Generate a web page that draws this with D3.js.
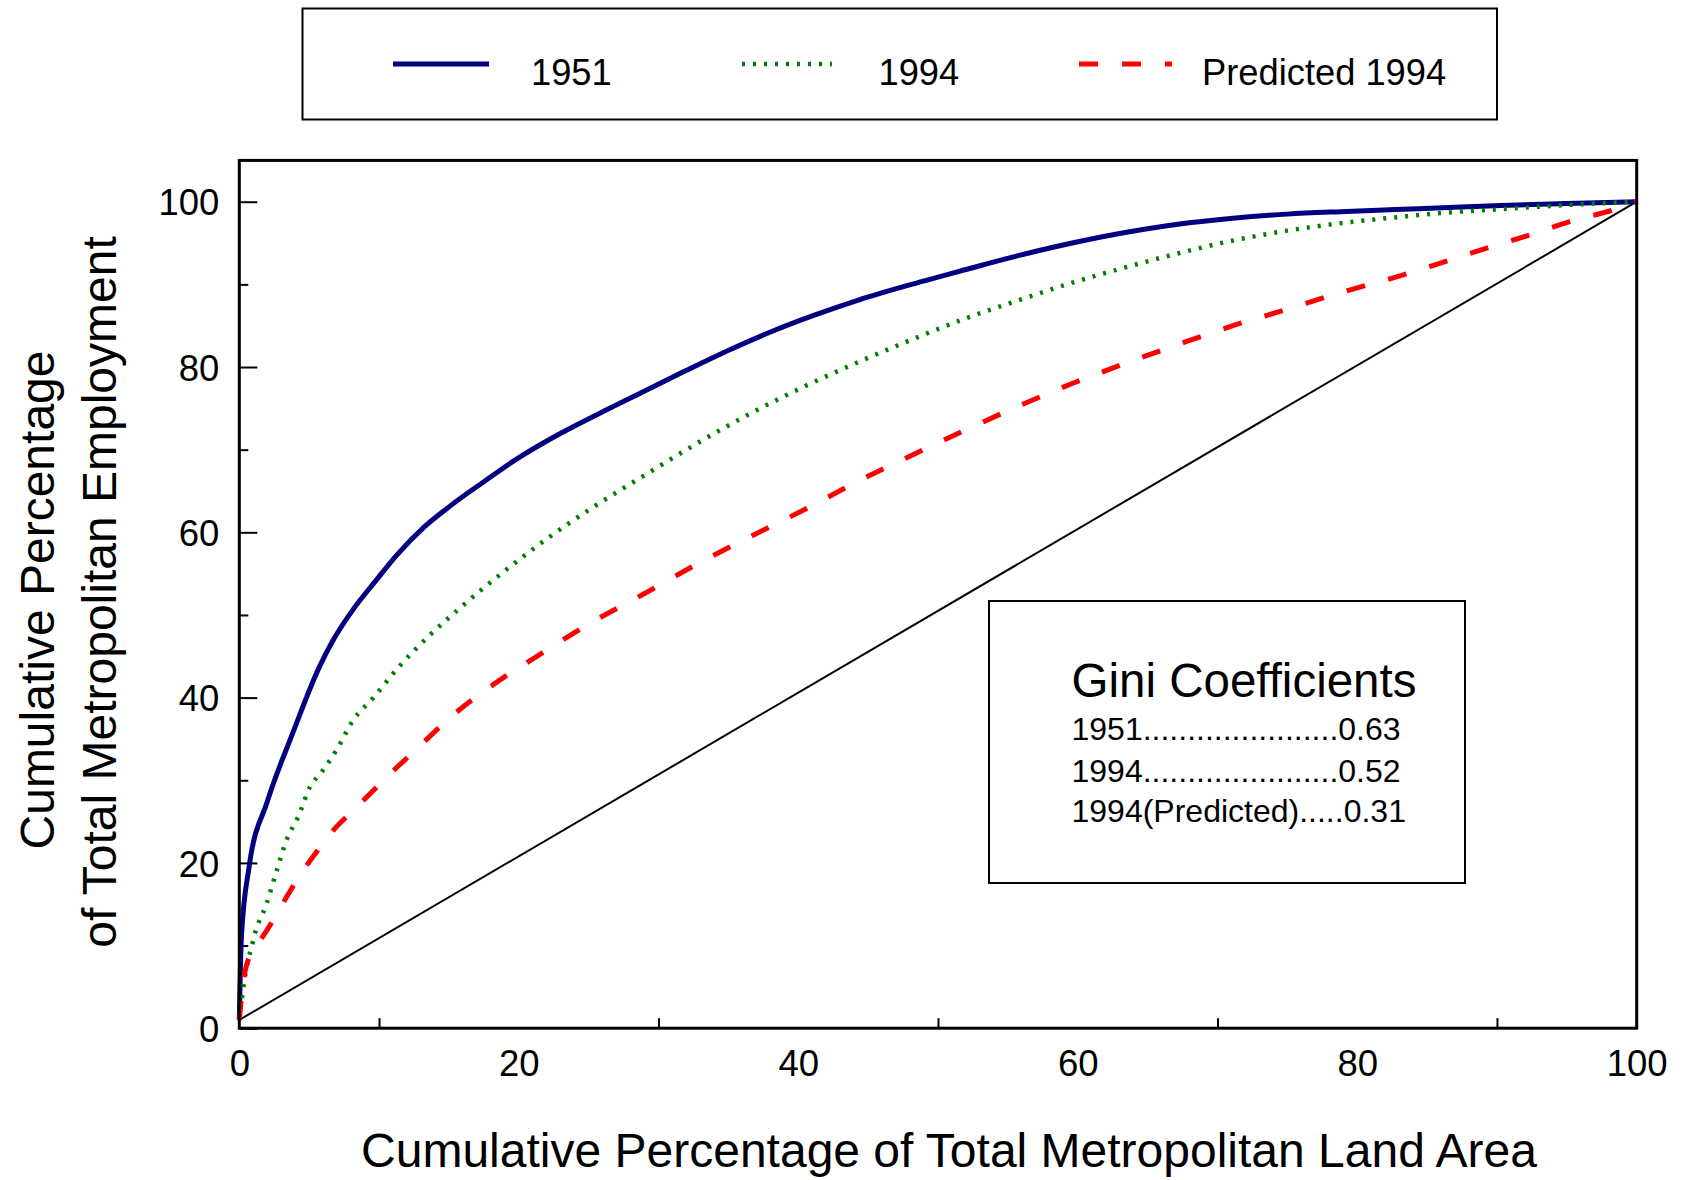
<!DOCTYPE html>
<html>
<head>
<meta charset="utf-8">
<script src="https://cdn.jsdelivr.net/npm/d3@7"></script>
<style>
  html, body { margin: 0; padding: 0; background: #fff; }
  svg { display: block; font-family: "Liberation Sans", Arial, Helvetica, sans-serif; }
</style>
</head>
<body>
<svg id="chart" width="1682" height="1180"></svg>
<script>
// Lorenz curves: cumulative share of metropolitan employment vs cumulative share of land area
const series1951 = [
  [0,1],[0.15,11],[0.7,19.5],[2.0,27.4],[3.8,35.6],[5.7,43.6],[6.7,46.9],[8.2,50.8],
  [9.7,54.0],[11.3,57.3],[13.2,60.6],[15.1,63.2],[17.4,66.0],[19.7,68.7],[22.8,71.8],
  [25.9,74.5],[28.9,77.0],[32.0,79.6],[35.1,82.1],[38.1,84.3],[41.2,86.3],[44.3,88.1],
  [48.1,90.0],[52.0,91.8],[55.8,93.5],[59.6,95.0],[63.5,96.3],[67.3,97.3],[71.1,98.0],
  [75.0,98.5],[78.8,98.8],[82.7,99.05],[86.5,99.3],[90.3,99.55],[95.0,99.8],[100,100]
];
const series1994 = [
  [0,1],[0.17,3.4],[0.53,7.4],[0.89,9.9],[1.13,11.5],[1.96,15.1],[2.68,19.1],[3.39,22.8],
  [4.22,25.6],[5.06,29.2],[5.9,31.0],[6.97,33.7],[8.16,37.3],[9.6,40.0],[11.3,43.5],
  [13.6,47.5],[15.9,51.0],[18.9,55.2],[22.0,59.2],[25.1,62.8],[28.9,66.8],[32.8,70.8],
  [36.6,74.4],[40.5,77.7],[44.3,80.6],[48.1,83.3],[52.0,85.9],[55.8,88.1],[59.6,90.2],
  [63.5,92.1],[67.3,93.8],[71.1,95.3],[75.0,96.5],[78.8,97.4],[82.7,98.1],[86.5,98.7],
  [90.3,99.1],[95.0,99.6],[100,100]
];
const seriesPredicted1994 = [
  [0,1],[0.2,4.5],[0.48,7.4],[1.2,9.8],[1.84,11.5],[2.43,13.1],[3.5,16.2],[4.3,18.4],
  [5.6,21.5],[6.6,23.7],[8.3,26.6],[9.5,28.6],[11.3,31.6],[12.7,33.8],[15.1,37.6],
  [18.2,41.6],[21.3,45.0],[25.1,49.0],[28.9,52.5],[32.8,56.2],[36.6,59.5],[40.5,62.8],
  [44.3,66.2],[48.1,69.3],[52.0,72.4],[55.8,75.3],[59.6,78.0],[63.5,80.5],[67.3,82.8],
  [71.1,85.0],[75.0,87.0],[78.8,89.0],[83.0,91.0],[86.0,92.6],[89.1,94.3],[92.2,95.9],
  [95.2,97.6],[98.3,99.0],[100,100]
];
// line of perfect equality
const equalityLine = [[0,1],[100,100]];

const legendLabels = ["1951", "1994", "Predicted 1994"];
const giniTitle = "Gini Coefficients";
const giniLabels = ["1951......................0.63", "1994......................0.52", "1994(Predicted).....0.31"];

const xMajorTicks = [0, 20, 40, 60, 80, 100];
const xMinorTicks = [10, 30, 50, 70, 90];
const yMajorTicks = [0, 20, 40, 60, 80, 100];
const yMinorTicks = [10, 30, 50, 70, 90];

const xTitle = "Cumulative Percentage of Total Metropolitan Land Area";
const yTitleLines = ["Cumulative Percentage", "of Total Metropolitan Employment"];

const svg = d3.select("#chart");

const plot = { left: 239.3, right: 1636.7, top: 160.4, bottom: 1028.2 };
const x = d3.scaleLinear().domain([0, 100]).range([plot.left, plot.right]);
const y = d3.scaleLinear().domain([0, 105]).range([plot.bottom, plot.top]);

const styles = [
  { color: "#000080", width: 5, dash: null },
  { color: "#008000", width: 4.5, dash: "3,8" },
  { color: "#ff0000", width: 5, dash: "19,24" }
];

// Legend box
const legend = svg.append("g");
legend.append("rect")
  .attr("x", 302.5).attr("y", 8.5).attr("width", 1194.5).attr("height", 111)
  .attr("fill", "none").attr("stroke", "#000").attr("stroke-width", 2);
const legendItems = [
  { x1: 393, x2: 489, tx: 531 },
  { x1: 742, x2: 832, tx: 878.5 },
  { x1: 1079, x2: 1172, tx: 1202 }
];
legendItems.forEach((it, i) => {
  legend.append("line")
    .attr("x1", it.x1).attr("x2", it.x2).attr("y1", 64).attr("y2", 64)
    .attr("stroke", styles[i].color).attr("stroke-width", styles[i].width)
    .attr("stroke-dasharray", styles[i].dash);
  legend.append("text")
    .attr("x", it.tx).attr("y", 84.5)
    .attr("font-size", 36.3).attr("fill", "#000")
    .text(legendLabels[i]);
});

// Y axis: labelled major ticks and short minor ticks, drawn inward
const yMajor = svg.append("g").attr("transform", `translate(${plot.left},0)`)
  .call(d3.axisLeft(y).tickValues(yMajorTicks).tickSize(-18).tickPadding(20).tickFormat(d3.format("d")));
const yMinor = svg.append("g").attr("transform", `translate(${plot.left},0)`)
  .call(d3.axisLeft(y).tickValues(yMinorTicks).tickSize(-9).tickFormat(""));

// X axis: labels at even tens, short ticks at odd tens
const xMajor = svg.append("g").attr("transform", `translate(0,${plot.bottom})`)
  .call(d3.axisBottom(x).tickValues(xMajorTicks).tickSize(0).tickPadding(22).tickFormat(d3.format("d")));
const xMinor = svg.append("g").attr("transform", `translate(0,${plot.bottom})`)
  .call(d3.axisBottom(x).tickValues(xMinorTicks).tickSize(-10).tickFormat(""));

[yMajor, yMinor, xMajor, xMinor].forEach(g => {
  g.select(".domain").remove();
  g.selectAll(".tick line").attr("stroke", "#000").attr("stroke-width", 2);
  g.selectAll(".tick text").attr("font-size", 36.5).attr("fill", "#000")
    .attr("font-family", "'Liberation Sans', Arial, sans-serif");
});
yMajor.selectAll(".tick text").attr("dy", "0.36em");
xMajor.selectAll(".tick text").attr("dy", "0.71em");

// Curves
const line = d3.line().x(d => x(d[0])).y(d => y(d[1])).curve(d3.curveMonotoneX);

svg.append("path").datum(equalityLine)
  .attr("d", d3.line().x(d => x(d[0])).y(d => y(d[1])))
  .attr("fill", "none").attr("stroke", "#000").attr("stroke-width", 2);

[series1951, series1994, seriesPredicted1994].forEach((s, i) => {
  svg.append("path").datum(s)
    .attr("d", line)
    .attr("fill", "none")
    .attr("stroke", styles[i].color)
    .attr("stroke-width", styles[i].width)
    .attr("stroke-dasharray", styles[i].dash)
    .attr("stroke-linejoin", "round");
});

// Plot frame
svg.append("rect")
  .attr("x", plot.left).attr("y", plot.top)
  .attr("width", plot.right - plot.left).attr("height", plot.bottom - plot.top)
  .attr("fill", "none").attr("stroke", "#000").attr("stroke-width", 3);

// Gini coefficient box
const gini = svg.append("g");
gini.append("rect")
  .attr("x", 989).attr("y", 601).attr("width", 476).attr("height", 282)
  .attr("fill", "#fff").attr("stroke", "#000").attr("stroke-width", 2);
gini.append("text")
  .attr("x", 1071.5).attr("y", 696.5)
  .attr("font-size", 47.5).attr("fill", "#000")
  .text(giniTitle);
const giniBaselines = [740, 781.5, 821.5];
giniLabels.forEach((t, i) => {
  gini.append("text")
    .attr("x", 1071.5).attr("y", giniBaselines[i])
    .attr("font-size", 32).attr("fill", "#000")
    .text(t);
});

// Axis titles
svg.append("text")
  .attr("x", 949).attr("y", 1167)
  .attr("text-anchor", "middle")
  .attr("font-size", 48).attr("fill", "#000")
  .text(xTitle);

const yTitleX = [53.5, 116];
const yTitleCenter = [600, 592];
yTitleLines.forEach((t, i) => {
  svg.append("text")
    .attr("transform", `translate(${yTitleX[i]},${yTitleCenter[i]}) rotate(-90)`)
    .attr("text-anchor", "middle")
    .attr("font-size", 48).attr("fill", "#000")
    .text(t);
});
</script>
</body>
</html>
